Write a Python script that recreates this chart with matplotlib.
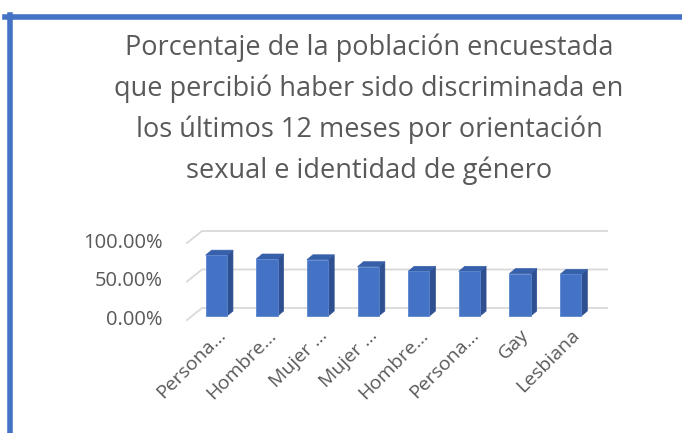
import matplotlib
matplotlib.use("Agg")
import matplotlib.pyplot as plt
from matplotlib.patches import Polygon, Rectangle
from matplotlib.lines import Line2D
from matplotlib.transforms import IdentityTransform, offset_copy

# Chart data
categories = ["Persona...", "Hombre...", "Mujer ...", "Mujer ...",
              "Hombre...", "Persona...", "Gay", "Lesbiana"]
values = [0.79, 0.74, 0.73, 0.64, 0.58, 0.58, 0.55, 0.54]
y_ticks = [0.0, 0.5, 1.0]
y_tick_labels = ["0.00%", "50.00%", "100.00%"]
title = ("Porcentaje de la población encuestada\n"
         "que percibió haber sido discriminada en\n"
         "los últimos 12 meses por orientación\n"
         "sexual e identidad de género")

FRONT = "#4472C4"
SIDE = "#2F5090"
TOP = "#3760AA"
TEXT = "#595959"
GRID = "#D9D9D9"

plt.rcParams["font.family"] = ["Open Sans", "DejaVu Sans"]

W, H, DPI = 682, 433, 100
fig = plt.figure(figsize=(W / DPI, H / DPI), dpi=DPI)

# front plane of the plot area (in pixels)
left_px, right_px = 187, 592
bottom_px, top_px = 320, 243
ax = fig.add_axes([left_px / W, 1 - bottom_px / H,
                   (right_px - left_px) / W, (bottom_px - top_px) / H])
ax.set_xlim(-0.5, len(categories) - 0.5)
ax.set_ylim(0, 1)
ax.axis("off")

# depth of the floor / back wall and of the bars (pixels)
depth_x, depth_y = 15, 12
bar_dx, bar_dy = 4, 4
side_x, side_y = 6, 5
bar_w = 0.42
ident = IdentityTransform()


def to_px(x, y):
    return ax.transData.transform((x, y))


# back wall gridlines with the left diagonal
for t in y_ticks:
    x0, y0 = to_px(-0.5, t)
    x1, y1 = to_px(len(categories) - 0.5, t)
    ax.add_line(Line2D([x0, x0 + depth_x, x1 + depth_x],
                       [y0, y0 + depth_y, y1 + depth_y],
                       transform=ident, color=GRID, lw=1.3,
                       zorder=1, clip_on=False))

# 3D looking columns
for i, v in enumerate(values):
    xl, yb = to_px(i - bar_w / 2, 0)
    xr, yt = to_px(i + bar_w / 2, v)
    xl += bar_dx; xr += bar_dx; yb += bar_dy; yt += bar_dy
    side = [(xr, yb), (xr + side_x, yb + side_y), (xr + side_x, yt + side_y), (xr, yt)]
    top = [(xl, yt), (xl + side_x, yt + side_y), (xr + side_x, yt + side_y), (xr, yt)]
    ax.add_patch(Polygon(side, closed=True, transform=ident, clip_on=False,
                         facecolor=SIDE, edgecolor=SIDE, lw=0.5, zorder=3))
    ax.add_patch(Polygon(top, closed=True, transform=ident, clip_on=False,
                         facecolor=TOP, edgecolor=TOP, lw=0.5, zorder=3))
    ax.add_patch(Rectangle((xl, yb), xr - xl, yt - yb, transform=ident, clip_on=False,
                           facecolor=FRONT, edgecolor="#5B86D0", lw=0.6, zorder=4))

# y tick labels
for t, lab in zip(y_ticks, y_tick_labels):
    ax.text(-0.5, t, lab, transform=offset_copy(ax.transData, fig, x=-24, y=0, units="dots"),
            ha="right", va="center", fontsize=14.5, color=TEXT)

# x tick labels, rotated
for i, lab in enumerate(categories):
    ax.text(i, 0, lab, transform=offset_copy(ax.transData, fig, x=14, y=-16, units="dots"),
            ha="right", va="baseline", rotation=45, rotation_mode="anchor",
            fontsize=14, color=TEXT)

# multi-line title: baseline alignment refers to the last line
fig.text(369 / W, 1 - 178 / H, title, ha="center", va="baseline", fontsize=19.5,
         color=TEXT, linespacing=1.58)

# chart border (top and left edges visible)
fig.add_artist(Line2D([5 / W, 1], [1 - 17 / H, 1 - 17 / H], color=FRONT, lw=4))
fig.add_artist(Line2D([9.5 / W, 9.5 / W], [1 - 15 / H, 0], color=FRONT, lw=4))

fig.savefig("out.png", dpi=DPI)
